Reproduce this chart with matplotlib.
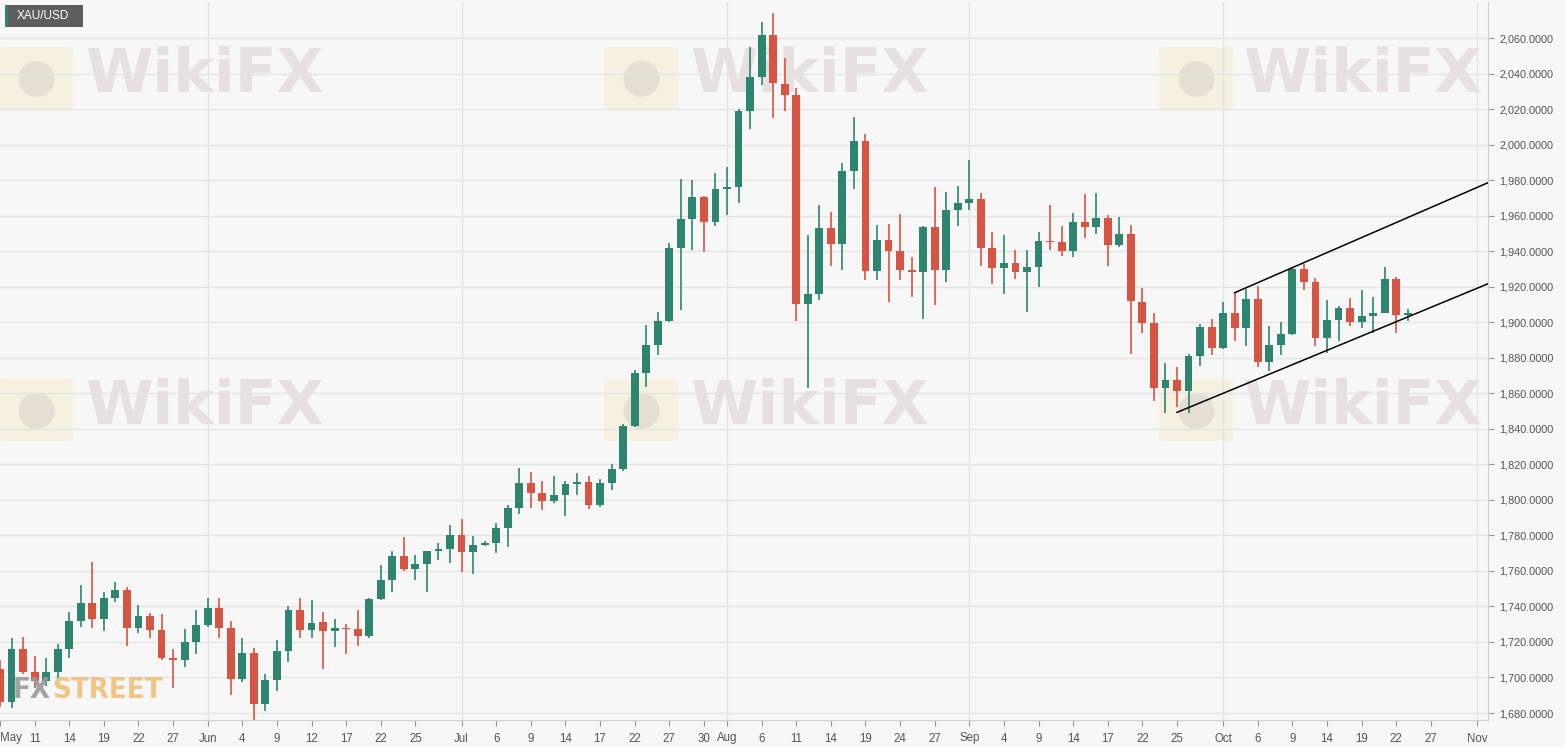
import matplotlib
matplotlib.use('Agg')
import matplotlib.pyplot as plt
from matplotlib.patches import FancyBboxPatch, Rectangle
import numpy as np

# daily XAU/USD candles, 6 May 2020 .. 23 Oct 2020 (one entry per weekday)
opens = [1705, 1686, 1716, 1703, 1698, 1703, 1716, 1732, 1742, 1733, 1745, 1749, 1728, 1734.5, 1727, 1711, 1710, 1720,
         1729.5, 1739.4, 1728, 1699, 1714, 1685, 1698.5, 1715, 1738, 1727, 1731, 1726, 1728, 1727.3, 1723.4, 1744, 1755, 1768.4, 1761, 1763.7, 1771, 1772.5,
         1780.4, 1770.6, 1774.8, 1776, 1784.3, 1795.3, 1809.6, 1804, 1799.3, 1802.8, 1809, 1810.3, 1797.4, 1809.6, 1817.4, 1841.4, 1871.7, 1887, 1900.8, 1942, 1958, 1970.6, 1956.4,
         1975, 1976, 2019, 2038, 2062, 2034, 2028, 1910.5, 1915.8, 1953, 1944, 1985.4, 2002, 1929, 1946.3, 1940, 1929.3, 1928.3, 1953.6, 1929.3, 1963,
         1967, 1969.5, 1941.8, 1930.7, 1933.5, 1928.5, 1931.3, 1946, 1945, 1940, 1956.4, 1953.8, 1958.5, 1943.3, 1950, 1911.6, 1899.8, 1863.3, 1867.5, 1861.5, 1881, 1897.6,
         1885.8, 1905, 1897, 1913, 1877.4, 1887, 1893.3, 1929.8, 1922.7, 1891, 1901.3, 1908.3, 1900.4, 1903.6, 1905.5, 1924.2, 1904]
highs = [1710, 1722.5, 1723, 1712, 1711, 1719, 1737, 1752, 1765, 1748, 1754, 1751, 1741, 1736.5, 1736, 1716, 1727.5, 1738,
         1745, 1745, 1732, 1722, 1716.7, 1702, 1721, 1740, 1745, 1743.5, 1736.6, 1733, 1730, 1738, 1745, 1763.5, 1771, 1779, 1769, 1771.5, 1776, 1786,
         1789.4, 1779.6, 1777, 1787, 1797, 1818, 1816, 1810.5, 1813.7, 1810.5, 1815.2, 1813.3, 1811.8, 1820.3, 1843, 1873, 1898.4, 1906, 1944.8, 1980.7, 1980, 1971, 1984,
         1987.5, 2020, 2055, 2069, 2074.4, 2049, 2032, 1949, 1965.8, 1962, 1990, 2015.4, 2006, 1955, 1955.2, 1961, 1937, 1954.5, 1976, 1973.4, 1976.6,
         1991.6, 1972.9, 1950.8, 1949, 1941, 1940.5, 1950.8, 1966, 1954.5, 1961.6, 1972, 1973, 1960.7, 1959.4, 1955, 1919.5, 1905, 1877, 1874.6, 1882.4, 1899, 1902,
         1911.6, 1916.7, 1918.6, 1920.4, 1898, 1900.4, 1931, 1932.6, 1925, 1912.4, 1909, 1913.5, 1918, 1914.3, 1931, 1925.7, 1907.3]
lows = [1683.5, 1683, 1702, 1694, 1695, 1699.5, 1711, 1728.5, 1728, 1726, 1742.5, 1717.5, 1725, 1722, 1710, 1694, 1706, 1713.5,
        1728.5, 1722, 1690, 1697.6, 1670, 1681, 1692.5, 1708.5, 1722, 1722.5, 1704.7, 1717, 1713, 1718, 1722, 1743.5, 1748, 1760, 1754.7, 1748, 1766, 1764.6,
        1759.4, 1758, 1774, 1770, 1773.4, 1791.8, 1795.5, 1794.4, 1798, 1790.7, 1802.5, 1795, 1796, 1805.7, 1816.5, 1841, 1863.7, 1881.7, 1900, 1906.8, 1941, 1939.7, 1954,
        1960.3, 1967, 2008.8, 2033.7, 2015, 2019, 1901, 1863.3, 1912.4, 1932, 1929.3, 1975.3, 1924, 1924, 1911.5, 1923.6, 1914, 1902, 1910, 1923, 1954,
        1963, 1932, 1921.4, 1915.8, 1924.2, 1906, 1920, 1941, 1937.3, 1937, 1947.6, 1949.5, 1932, 1942.6, 1882, 1894, 1855.5, 1849, 1852.5, 1849, 1875.5, 1881.7,
        1885, 1889.6, 1886.7, 1875, 1872.7, 1881.5, 1893, 1918, 1886.4, 1883, 1889.6, 1898, 1897, 1894.2, 1905, 1894.2, 1901]
closes = [1686, 1716, 1703, 1698, 1703, 1716, 1732, 1742, 1733, 1745, 1749, 1728, 1734.5, 1727, 1711, 1710, 1720, 1729.5,
          1739.4, 1728, 1699, 1714, 1685, 1698.5, 1715, 1738, 1727, 1730.7, 1726, 1728, 1727.3, 1723.4, 1744, 1755, 1768.4, 1761, 1763.7, 1771, 1772.5, 1780.4,
          1770.6, 1774.8, 1776, 1784.3, 1795.3, 1809.6, 1804, 1799.3, 1802.8, 1809, 1810.3, 1797.4, 1809.6, 1817.4, 1841.4, 1871.7, 1887, 1900.8, 1942, 1958, 1970.6, 1956.4, 1975,
          1976, 2019, 2038, 2062, 2034.7, 2028, 1910.5, 1915.8, 1953, 1944, 1985.4, 2002, 1929, 1946.3, 1940, 1929.3, 1928.3, 1953.6, 1929.3, 1963, 1967,
          1969.5, 1941.8, 1930.7, 1933.5, 1928.5, 1931.3, 1946, 1945, 1940, 1956.4, 1953.8, 1958.5, 1943.3, 1950, 1912, 1899.8, 1863.3, 1867.5, 1861.5, 1881, 1897.6, 1885.8,
          1905, 1897, 1913, 1877.4, 1887, 1893.3, 1929.8, 1922.7, 1891.4, 1901.3, 1908.3, 1900.4, 1903.6, 1905.5, 1924.2, 1904, 1905.5]

tick_idx = [0, 3, 6, 9, 12, 15,
            18, 21, 24, 27, 30, 33, 36,
            40, 43, 46, 49, 52, 55, 58, 61,
            63, 66, 69, 72, 75, 78, 81,
            84, 87, 90, 93, 96, 99, 102,
            106, 109, 112, 115, 118, 121, 124,
            128]
tick_labels = ['May', '11', '14', '19', '22', '27',
               'Jun', '4', '9', '12', '17', '22', '25',
               'Jul', '6', '9', '14', '17', '22', '27', '30',
               'Aug', '6', '11', '14', '19', '24', '27',
               'Sep', '4', '9', '14', '17', '22', '25',
               'Oct', '6', '9', '14', '19', '22', '27',
               'Nov']
month_idx = [18, 40, 63, 84, 106, 128]
price_ticks = list(range(1680, 2061, 20))

# channel lines (start index, end index), (start price, end price)
upper_x, upper_y = [107, 129.5], [1916.7, 1980.2]
lower_x, lower_y = [102, 129.5], [1849.3, 1923.2]

GREEN = '#2d8570'
RED = '#d65542'
BG = '#f7f7f7'
FONT = 'Liberation Sans'

W, H = 1565, 747
fig = plt.figure(figsize=(W / 100, H / 100), dpi=100, facecolor=BG)
ax = fig.add_axes([0, 27 / H, 1488 / W, 718 / H], facecolor=BG)

# watermarks (kept inside the plot area)
for lx, tx in [(0, 85), (605, 690), (1160, 1243)]:
    for cy in [78, 410]:
        logo = FancyBboxPatch(((lx + 5) / W, 1 - (cy + 28) / H), 62 / W, 56 / H,
                              boxstyle='round,pad=0.004', transform=fig.transFigure,
                              fc='#f4e0b0', ec='none', alpha=0.3, zorder=0.5)
        ax.add_patch(logo)
        ax.text((lx + 36) / W, 1 - cy / H, '\u25CF', fontsize=34, color='#b0aaaa', alpha=0.25,
                ha='center', va='center', zorder=0.6, transform=fig.transFigure, clip_on=True)
        ax.text(tx / W, 1 - (cy - 2) / H, 'WikiFX', fontsize=44, fontweight='bold',
                color='#bfaeae', alpha=0.3, ha='left', va='center', zorder=0.6,
                transform=fig.transFigure, clip_on=True)

x = np.arange(len(opens))
o = np.array(opens)
c = np.array(closes)
colors = [GREEN if cc >= oo else RED for oo, cc in zip(o, c)]
bottoms = np.minimum(o, c)
heights = np.maximum(np.abs(c - o), 0.8)

ax.vlines(x, lows, highs, colors=colors, linewidth=1.2, zorder=3)
ax.bar(x, heights, bottom=bottoms, width=0.68, color=colors, linewidth=0, zorder=4)

ax.plot(upper_x, upper_y, color='black', linewidth=1.1, zorder=5)
ax.plot(lower_x, lower_y, color='black', linewidth=1.1, zorder=5)

ax.set_xlim(0, 128.95)
ax.set_ylim(1676.06, 2080.4)

ax.set_yticks(price_ticks)
ax.set_yticklabels(['{:,.4f}'.format(p) for p in price_ticks], fontfamily=FONT)
ax.yaxis.tick_right()
ax.set_xticks(tick_idx)
ax.set_xticklabels(tick_labels, fontfamily=FONT)
ax.get_xticklabels()[0].set_ha('left')
ax.tick_params(axis='both', colors='#999999', labelcolor='#555555', labelsize=7.8, length=4, width=0.8)
ax.tick_params(axis='x', labelsize=8.3, pad=5)
ax.tick_params(axis='y', pad=4)

for p in price_ticks:
    ax.axhline(p, color='#e3e3e3', linewidth=1, zorder=1)
for m in month_idx:
    ax.axvline(m, color='#e3e3e3', linewidth=1, zorder=1)

for s in ['top', 'left']:
    ax.spines[s].set_visible(False)
for s in ['right', 'bottom']:
    ax.spines[s].set_color('#d0d0d0')

# symbol tag
fig.patches.append(Rectangle((5 / W, 1 - 27 / H), 78 / W, 22 / H, transform=fig.transFigure,
                             fc='#5e5e5e', ec='none', zorder=10))
fig.patches.append(Rectangle((5 / W, 1 - 27 / H), 3 / W, 22 / H, transform=fig.transFigure,
                             fc=GREEN, ec='none', zorder=11))
fig.text(17 / W, 1 - 16 / H, 'XAU/USD', color='white', fontsize=8.5, family=FONT,
         ha='left', va='center', zorder=12)

# FXStreet logo
fig.text(13 / W, 1 - 690 / H, 'FX', color='#9a9a9a', fontsize=21, fontweight='bold',
         fontstretch='condensed', ha='left', va='center', alpha=0.9, zorder=12)
fig.text(52 / W, 1 - 690 / H, 'STREET', color='#f0bf78', fontsize=21, fontweight='bold',
         fontstretch='condensed', ha='left', va='center', alpha=0.9, zorder=12)

fig.savefig('out.png', dpi=100, facecolor=BG)
